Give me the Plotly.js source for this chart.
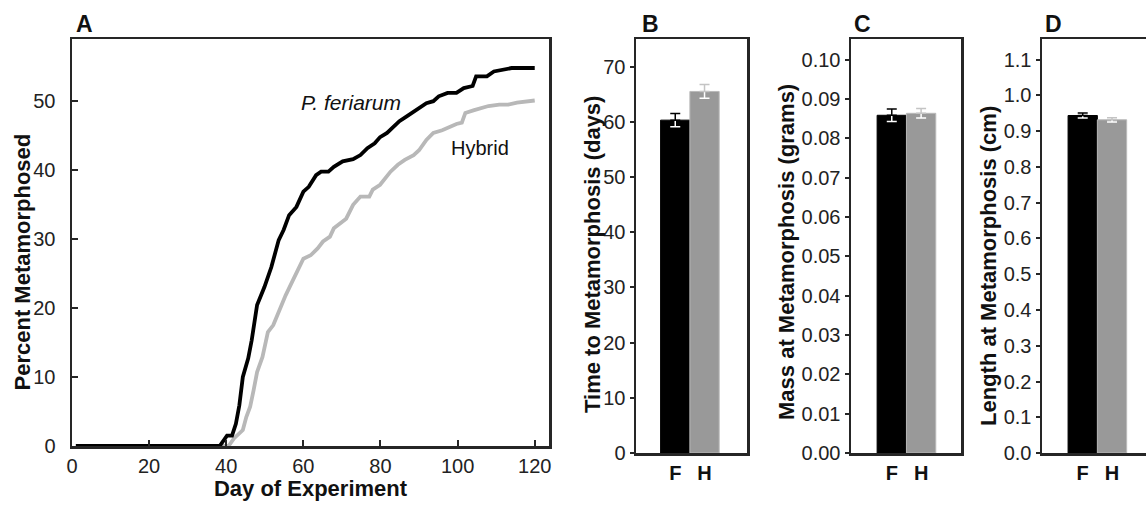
<!DOCTYPE html>
<html>
<head>
<meta charset="utf-8">
<script src="https://cdn.plot.ly/plotly-3.0.1.min.js"></script>
<style>html,body{margin:0;padding:0;background:#fff;}#chart{width:1146px;height:505px;}</style>
</head>
<body>
<div id="chart"></div>
<script>
// ---- Panel A: cumulative percent metamorphosed ----
const feriarumDay = [1, 38.3, 40.2, 41.5, 42.5, 43.4, 44.3, 45.7, 46.6, 48, 49.9, 51.7, 53.6, 54.9, 56.3, 58.2, 60, 61.4, 63.3, 64.6, 66.5, 67.9, 70.2, 72.9, 74.8, 76.6, 78.5, 79.9, 81.7, 83.1, 84.9, 86.8, 88.6, 90.5, 91.9, 93.7, 95.1, 97.4, 99.7, 101.6, 103.9, 104.8, 107.6, 109.4, 111.7, 114, 120];
const feriarumPct = [0, 0, 1.5, 1.5, 3.2, 5.9, 10, 12.7, 15.3, 20.4, 23, 25.9, 29.8, 31.3, 33.4, 34.6, 36.8, 37.5, 39.2, 39.7, 39.7, 40.4, 41.2, 41.5, 42.1, 43.1, 43.8, 44.7, 45.3, 46, 47, 47.7, 48.4, 49.2, 49.6, 49.9, 50.6, 51.1, 51.1, 51.8, 52.1, 53.5, 53.5, 54.2, 54.4, 54.7, 54.7];
const hybridDay = [1, 40.6, 42, 44.3, 45.2, 46.2, 47.1, 48, 49.4, 50.8, 52.2, 53.6, 55.4, 57.3, 58.6, 60, 61.9, 63.7, 65.1, 66.9, 67.9, 69.7, 71.1, 72.9, 74.8, 77.1, 78, 79.9, 81.3, 82.6, 84.5, 86.3, 88.6, 90, 91.9, 93.7, 96, 97.9, 99.7, 101.1, 102, 104.3, 106.2, 108, 110.8, 113.1, 115.4, 120];
const hybridPct = [0, 0, 1.1, 2.3, 4.2, 5.7, 8.1, 10.7, 12.9, 16.5, 17.5, 19.4, 21.8, 24, 25.5, 27.1, 27.6, 28.6, 29.6, 30.3, 31.5, 32.2, 32.9, 34.9, 36.1, 36.1, 37.1, 37.8, 38.7, 39.7, 40.7, 41.4, 42.1, 42.8, 44.3, 45.3, 45.7, 46.2, 46.6, 46.8, 48.2, 48.6, 48.9, 49.2, 49.4, 49.4, 49.7, 50];

// ---- Panels B-D: group means and standard errors ----
const groups = ['F', 'H'];
const groupPos = [0, 1];
const timeMean = [60.3, 65.5];
const timeSE = [1.2, 1.25];
const massMean = [0.0859, 0.0864];
const massSE = [0.0016, 0.0012];
const lengthMean = [0.944, 0.932];
const lengthSE = [0.007, 0.006];

const FAM = 'Liberation Sans, Arial, sans-serif';
const ttlFont = {family: FAM, size: 22, color: '#111', weight: 'bold'};
const tickFont = {family: FAM, size: 20, color: '#222'};
const boldTick = {family: FAM, size: 20, color: '#111', weight: 'bold'};
const LC = '#262626';

function barTraces(mean, se, xa, ya) {
  const out = [];
  out.push({type: 'bar', x: groupPos, y: mean, width: 1, xaxis: xa, yaxis: ya,
    marker: {color: ['#000000', '#999999'], line: {color: ['#000000', '#b9b9b9'], width: 1}},
    showlegend: false, hoverinfo: 'skip'});
  // white full error bars (visible over the bars)
  out.push({type: 'scatter', mode: 'markers', x: groupPos, y: mean, xaxis: xa, yaxis: ya,
    marker: {size: 1, opacity: 0}, showlegend: false, hoverinfo: 'skip',
    error_y: {type: 'data', array: se, visible: true, color: '#ffffff', thickness: 1.5, width: 5}});
  // upper part over the white background
  out.push({type: 'scatter', mode: 'markers', x: [groupPos[0]], y: [mean[0]], xaxis: xa, yaxis: ya,
    marker: {size: 1, opacity: 0}, showlegend: false, hoverinfo: 'skip',
    error_y: {type: 'data', symmetric: false, array: [se[0]], arrayminus: [0], visible: true, color: '#000000', thickness: 1.5, width: 5}});
  out.push({type: 'scatter', mode: 'markers', x: [groupPos[1]], y: [mean[1]], xaxis: xa, yaxis: ya,
    marker: {size: 1, opacity: 0}, showlegend: false, hoverinfo: 'skip',
    error_y: {type: 'data', symmetric: false, array: [se[1]], arrayminus: [0], visible: true, color: '#c4c4c4', thickness: 1.5, width: 5}});
  return out;
}

const data = [
  {type: 'scatter', mode: 'lines', x: hybridDay, y: hybridPct, xaxis: 'x', yaxis: 'y',
    line: {color: '#b8b8b8', width: 3.8}, showlegend: false, name: 'Hybrid'},
  {type: 'scatter', mode: 'lines', x: feriarumDay, y: feriarumPct, xaxis: 'x', yaxis: 'y',
    line: {color: '#000000', width: 3.8}, showlegend: false, name: 'P. feriarum'},
  ...barTraces(timeMean, timeSE, 'x2', 'y2'),
  ...barTraces(massMean, massSE, 'x3', 'y3'),
  ...barTraces(lengthMean, lengthSE, 'x4', 'y4')
];

const W = 1146, H = 505;
const px = v => v / W;
const py = v => (H - v) / H;

function barX(dom, range, anchor) {
  return {anchor: anchor, domain: dom, range: range, showline: true, mirror: true, linecolor: LC, linewidth: 2.5,
    tickvals: groupPos, ticktext: groups, ticks: '', tickfont: boldTick, showgrid: false, zeroline: false};
}
function barY(anchor, range, dtick, fmt) {
  return {anchor: anchor, domain: [py(453), py(39)], range: range, dtick: dtick, tick0: 0, tickformat: fmt,
    showline: true, mirror: true, linecolor: LC, linewidth: 2.5, ticks: 'outside', ticklen: 4, tickwidth: 2, tickcolor: LC,
    tickfont: tickFont, showgrid: false, zeroline: false};
}
function yTitle(text, x, y) {
  return {text: '<b>' + text + '</b>', x: px(x), y: py(y), xref: 'paper', yref: 'paper', xanchor: 'center', yanchor: 'middle',
    textangle: -90, showarrow: false, font: {family: FAM, size: 22, color: '#111'}};
}
function letter(text, x) {
  return {text: '<b>' + text + '</b>', x: px(x), y: py(24), xref: 'paper', yref: 'paper', xanchor: 'left', yanchor: 'middle',
    showarrow: false, font: {family: FAM, size: 23, color: '#111'}};
}

const layout = {
  width: W, height: H, margin: {l: 0, r: 0, t: 0, b: 0}, paper_bgcolor: '#fff', plot_bgcolor: '#fff',
  showlegend: false,
  font: {family: FAM},
  xaxis: {anchor: 'y', domain: [px(72), px(549)], range: [0, 123.7], tickvals: [0, 20, 40, 60, 80, 100, 120],
    showline: true, mirror: true, linecolor: LC, linewidth: 2.5, ticks: 'inside', ticklen: 6, tickwidth: 2, tickcolor: LC,
    tickfont: tickFont, showgrid: false, zeroline: false,
    title: {text: 'Day of Experiment', font: ttlFont, standoff: 4}},
  yaxis: {anchor: 'x', domain: [py(446), py(39)], range: [0, 58.9], tickvals: [0, 10, 20, 30, 40, 50],
    showline: true, mirror: true, linecolor: LC, linewidth: 2.5, ticks: 'inside', ticklen: 6, tickwidth: 2, tickcolor: LC,
    ticklabelstandoff: 10,
    tickfont: tickFont, showgrid: false, zeroline: false},
  xaxis2: barX([px(636), px(747)], [-1.34, 2.45], 'y2'),
  yaxis2: barY('x2', [0, 75], 10, 'd'),
  xaxis3: barX([px(851), px(961)], [-1.39, 2.36], 'y3'),
  yaxis3: barY('x3', [0, 0.1053], 0.01, '.2f'),
  xaxis4: barX([px(1042), 1], [-1.39, 2.16], 'y4'),
  yaxis4: barY('x4', [0, 1.158], 0.1, '.1f'),
  annotations: [
    letter('A', 74), letter('B', 640), letter('C', 852), letter('D', 1043),
    yTitle('Percent Metamorphosed', 21.5, 262),
    yTitle('Time to Metamorphosis (days)', 592, 255),
    yTitle('Mass at Metamorphosis (grams)', 786, 252),
    yTitle('Length at Metamorphosis (cm)', 988, 266),
    {text: '<i>P. feriarum</i>', x: px(351), y: py(103), xref: 'paper', yref: 'paper', xanchor: 'center', yanchor: 'middle', showarrow: false, font: {family: FAM, size: 21, color: '#111'}},
    {text: 'Hybrid', x: px(480), y: py(148), xref: 'paper', yref: 'paper', xanchor: 'center', yanchor: 'middle', showarrow: false, font: {family: FAM, size: 20, color: '#111'}}
  ]
};

Plotly.newPlot('chart', data, layout, {staticPlot: true, displayModeBar: false});
</script>
</body>
</html>
